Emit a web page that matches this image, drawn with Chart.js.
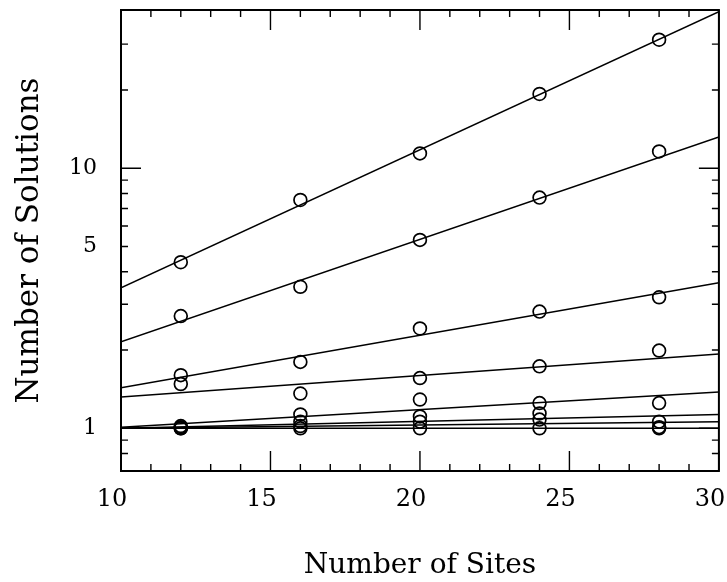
<!DOCTYPE html>
<html>
<head>
<meta charset="utf-8">
<script src="https://cdn.jsdelivr.net/npm/chart.js@4.4.1/dist/chart.umd.min.js"></script>
<style>
  html, body { margin: 0; padding: 0; background: #fff; }
  #wrap { width: 727px; height: 582px; }
</style>
</head>
<body>
<div id="wrap"><canvas id="c" width="727" height="582"></canvas></div>
<script>
// Lattice sizes at which the number of solutions was counted
const sites = [12, 16, 20, 24, 28];

// Measured number of solutions, one array per family
const solutions1 = [4.35, 7.55, 11.4, 19.3, 31.2];
const solutions2 = [2.70, 3.50, 5.30, 7.71, 11.6];
const solutions3 = [1.60, 1.80, 2.42, 2.81, 3.19];
const solutions4 = [1.48, 1.36, 1.56, 1.73, 1.99];
const solutions5 = [1.02, 1.13, 1.29, 1.25, 1.25];
const solutions6 = [1.01, 1.06, 1.11, 1.14, 1.06];
const solutions7 = [1.00, 1.02, 1.06, 1.08, 1.01];
const solutions8 = [1.00, 1.00, 1.00, 1.00, 1.00];

// Exponential fits, evaluated at the two ends of the site range
const fitRange = [10, 30];
const fit1 = [3.47, 40.0];
const fit2 = [2.15, 13.2];
const fit3 = [1.43, 3.63];
const fit4 = [1.32, 1.93];
const fit5 = [1.01, 1.38];
const fit6 = [1.00, 1.13];
const fit7 = [1.00, 1.06];
const fit8 = [1.00, 1.00];

// Tick positions and the ones that carry a label
const xTickValues = [10, 11, 12, 13, 14, 15, 16, 17, 18, 19, 20, 21, 22, 23, 24, 25, 26, 27, 28, 29, 30];
const xTickLabels = [10, 15, 20, 25, 30];
const yTickValues = [0.8, 0.9, 1, 2, 3, 4, 5, 6, 7, 8, 9, 10, 20, 30];
const yTickLabels = [1, 5, 10];
const yLongTicks = [1, 10];

const FONT = "'DejaVu Serif', 'Liberation Serif', serif";
const INK = '#000';

const pointSets = [solutions1, solutions2, solutions3, solutions4, solutions5, solutions6, solutions7, solutions8];
const fitSets = [fit1, fit2, fit3, fit4, fit5, fit6, fit7, fit8];

const datasets = [];
fitSets.forEach((f) => {
  datasets.push({
    data: fitRange.map((x, j) => ({ x, y: f[j] })),
    showLine: true,
    borderColor: INK,
    borderWidth: 1.5,
    pointRadius: 0,
    fill: false
  });
});
pointSets.forEach((s) => {
  datasets.push({
    data: sites.map((x, j) => ({ x, y: s[j] })),
    showLine: false,
    pointStyle: 'circle',
    pointRadius: 6.4,
    borderColor: INK,
    borderWidth: 1.7,
    backgroundColor: 'rgba(0,0,0,0)'
  });
});

// Boxed frame with inward tick marks on all four sides
const frameTicks = {
  id: 'frameTicks',
  afterDraw(chart) {
    const { ctx, chartArea: a, scales: { x, y } } = chart;
    ctx.save();
    ctx.strokeStyle = INK;
    ctx.lineWidth = 2;
    ctx.strokeRect(a.left, a.top, a.right - a.left, a.bottom - a.top);
    ctx.lineWidth = 1.4;
    ctx.beginPath();
    x.ticks.forEach((t) => {
      const px = x.getPixelForValue(t.value);
      const len = xTickLabels.includes(t.value) ? 20 : 7;
      ctx.moveTo(px, a.bottom); ctx.lineTo(px, a.bottom - len);
      ctx.moveTo(px, a.top); ctx.lineTo(px, a.top + len);
    });
    y.ticks.forEach((t) => {
      const py = y.getPixelForValue(t.value);
      const len = yLongTicks.includes(t.value) ? 20 : 7;
      ctx.moveTo(a.left, py); ctx.lineTo(a.left + len, py);
      ctx.moveTo(a.right, py); ctx.lineTo(a.right - len, py);
    });
    ctx.stroke();
    ctx.restore();
  }
};

new Chart(document.getElementById('c'), {
  type: 'scatter',
  data: { datasets },
  options: {
    responsive: false,
    animation: false,
    layout: { padding: { top: 10, right: 6, left: 0, bottom: 0 } },
    plugins: { legend: { display: false }, tooltip: { enabled: false } },
    scales: {
      x: {
        type: 'linear',
        min: 10,
        max: 30,
        afterBuildTicks: (s) => { s.ticks = xTickValues.map((v) => ({ value: v })); },
        afterFit: (s) => { s.height = 111; s.paddingLeft = 0; s.paddingRight = 0; },
        grid: { display: false, drawTicks: false },
        border: { display: false },
        ticks: {
          autoSkip: false,
          maxRotation: 0,
          labelOffset: -9,
          padding: 14,
          color: INK,
          font: { family: FONT, size: 24 },
          callback: (v) => (xTickLabels.includes(v) ? String(v) : '')
        },
        title: {
          display: true,
          text: 'Number of Sites',
          color: INK,
          font: { family: FONT, size: 28, lineHeight: 1 },
          padding: { top: 0, bottom: 2 }
        }
      },
      y: {
        type: 'logarithmic',
        min: 0.685,
        max: 40.6,
        afterBuildTicks: (s) => { s.ticks = yTickValues.map((v) => ({ value: v })); },
        afterFit: (s) => { s.width = 121; s.paddingTop = 0; s.paddingBottom = 0; },
        grid: { display: false, drawTicks: false },
        border: { display: false },
        ticks: {
          autoSkip: false,
          padding: 24,
          color: INK,
          font: { family: FONT, size: 22 },
          callback: (v) => (yTickLabels.includes(v) ? String(v) : '')
        },
        title: {
          display: true,
          text: 'Number of Solutions',
          color: INK,
          font: { family: FONT, size: 31, lineHeight: 1 },
          padding: { top: 14, bottom: 0 }
        }
      }
    }
  },
  plugins: [frameTicks]
});
</script>
</body>
</html>
